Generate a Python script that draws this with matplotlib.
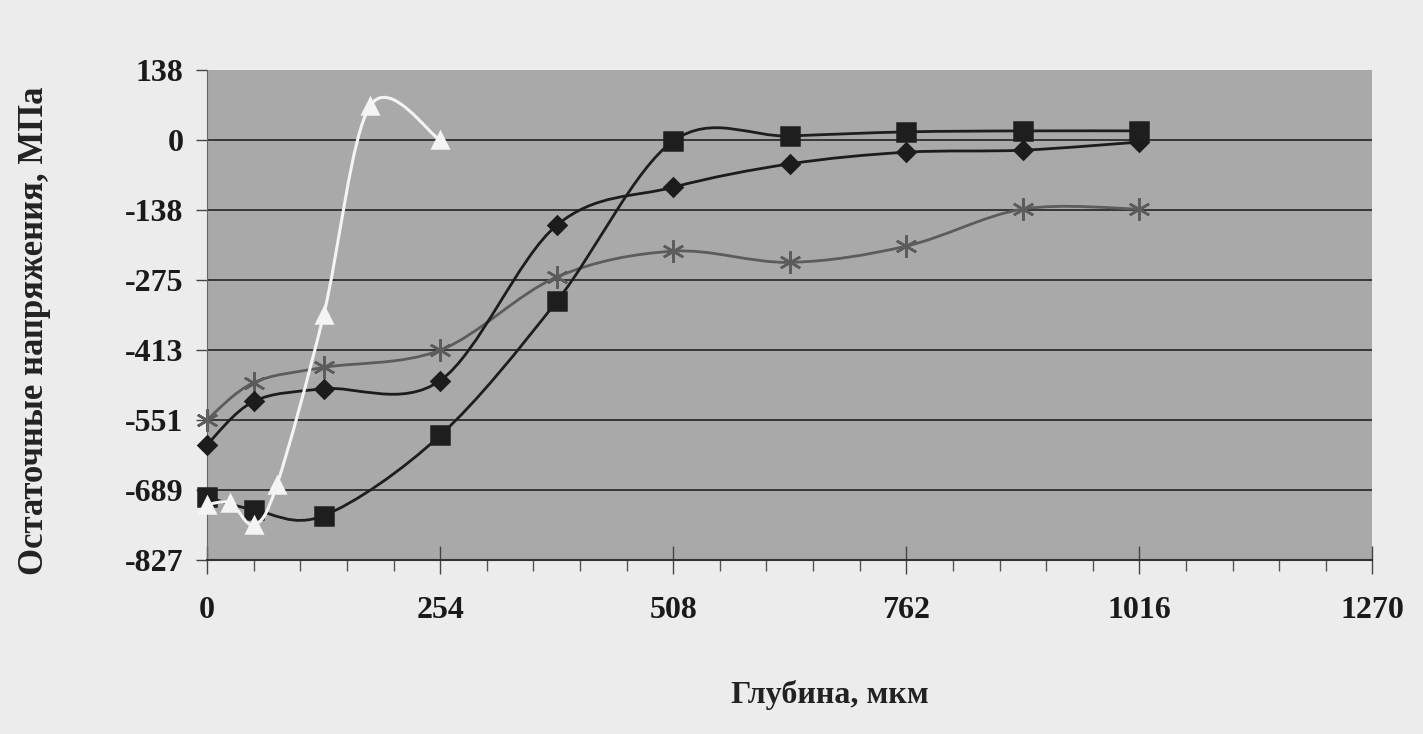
import matplotlib
matplotlib.use("Agg")
import matplotlib.pyplot as plt
from matplotlib.path import Path
from matplotlib.patches import PathPatch
from matplotlib.ticker import MultipleLocator

# Data
depth = [0, 50.8, 127, 254, 381, 508, 635, 762, 889, 1016]
stress_diamond = [-600, -515, -490, -474, -168, -93, -47, -24, -20, -4]
stress_square = [-703, -728, -740, -582, -318, -2, 8, 16, 18, 18]
stress_star = [-551, -478, -448, -414, -270, -219, -241, -209, -136, -136]

depth_tri = [0, 25.4, 50.8, 76.2, 127, 178, 254]
stress_tri = [-718, -715, -758, -679, -345, 68, 0]

y_ticks = [137.9, 0, -137.9, -275.8, -413.7, -551.6, -689.5, -827.4]
y_labels = ['138', '0', '-138', '-275', '-413', '-551', '-689', '-827']
x_ticks = [0, 254, 508, 762, 1016, 1270]


def smooth_path(x, y):
    # Excel-like smoothed line: Catmull-Rom segments as cubic Bezier
    pts = list(zip(x, y))
    n = len(pts)
    verts = [pts[0]]
    codes = [Path.MOVETO]
    for i in range(n - 1):
        p0 = pts[i - 1] if i > 0 else pts[i]
        p1 = pts[i]
        p2 = pts[i + 1]
        p3 = pts[i + 2] if i + 2 < n else pts[i + 1]
        c1 = (p1[0] + (p2[0] - p0[0]) / 6, p1[1] + (p2[1] - p0[1]) / 6)
        c2 = (p2[0] - (p3[0] - p1[0]) / 6, p2[1] - (p3[1] - p1[1]) / 6)
        verts += [c1, c2, p2]
        codes += [Path.CURVE4] * 3
    return Path(verts, codes)


fig = plt.figure(figsize=(14.23, 7.34), dpi=100, facecolor='#ececec')
ax = fig.add_axes([0.1455, 0.237, 0.819, 0.6676])
ax.set_facecolor('#a9a9a9')

ax.set_xlim(0, 1270)
ax.set_ylim(-827.4, 137.9)

for v in y_ticks[1:-1]:
    ax.axhline(v, color='#2e2e2e', lw=1.3, zorder=1)

series = [
    (depth, stress_star, '#5c5c5c', (6, 2, 0), 16, 2.0, 2),
    (depth, stress_diamond, '#1c1c1c', 'D', 9, 2.0, 3),
    (depth, stress_square, '#1e1e1e', 's', 13, 2.0, 4),
    (depth_tri, stress_tri, '#f4f4f4', '^', 12, 2.2, 5),
]
for xs, ys, col, mk, ms, lw, z in series:
    ax.add_patch(PathPatch(smooth_path(xs, ys), fill=False, edgecolor=col,
                           lw=lw, zorder=z))
    ax.plot(xs, ys, linestyle='none', marker=mk, markersize=ms, color=col,
            markeredgecolor=col, markeredgewidth=1.8, zorder=z + 0.5,
            clip_on=False)

for s in ['top', 'right']:
    ax.spines[s].set_visible(False)
ax.spines['left'].set_color('#666666')
ax.spines['bottom'].set_color('#333333')
ax.spines['bottom'].set_linewidth(1.5)

ax.set_yticks(y_ticks)
ax.set_yticklabels(y_labels)
ax.set_xticks(x_ticks)
ax.set_xticklabels([str(t) for t in x_ticks])
ax.xaxis.set_minor_locator(MultipleLocator(50.8))

font = dict(family='Liberation Serif', weight='bold', color='#222222')
for lab in ax.get_xticklabels() + ax.get_yticklabels():
    lab.set_fontfamily('Liberation Serif')
    lab.set_fontweight('bold')
    lab.set_fontsize(23)
    lab.set_color('#1a1a1a')
ax.tick_params(axis='y', length=8, width=1, color='#444444', pad=9)
ax.tick_params(axis='x', which='major', direction='inout', length=20,
               width=1, color='#444444', pad=16)
ax.tick_params(axis='x', which='minor', direction='out', length=8,
               width=1, color='#555555')

fig.text(0.024, 0.549, 'Остаточные напряжения, МПа', rotation=90,
         ha='center', va='center', fontsize=25, **font)
fig.text(0.583, 0.053, 'Глубина, мкм', ha='center', va='center',
         fontsize=23, **font)

fig.savefig('out.png', dpi=100, facecolor=fig.get_facecolor())
